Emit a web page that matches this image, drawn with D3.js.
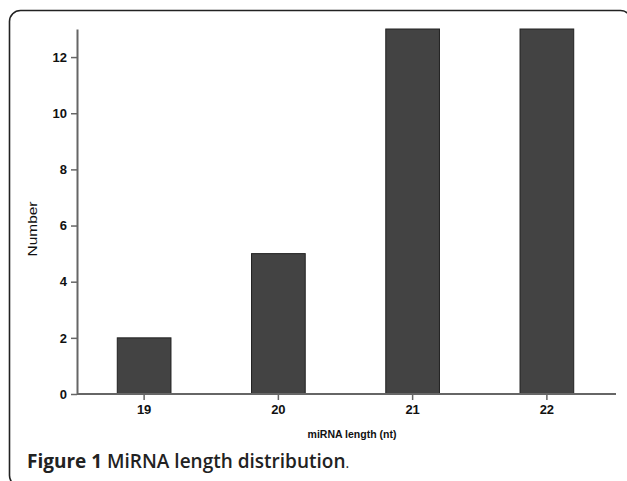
<!DOCTYPE html>
<html>
<head>
<meta charset="utf-8">
<script src="https://cdn.jsdelivr.net/npm/d3@7"></script>
<style>
  body { margin: 0; background: #fff; }
  svg { display: block; }
</style>
</head>
<body>
<div id="chart"></div>
<script>
// data
var lengths = ['19', '20', '21', '22'];
var counts  = [2, 5, 13, 13];
var yTicks  = [0, 2, 4, 6, 8, 10, 12];

var width    = 627
  , height   = 481
  , plotLeft   = 77
  , plotRight  = 614
  , plotTop    = 29
  , plotBottom = 394
  , axisColor = '#666'
  , barColor  = '#434343'
;

var svg = d3.select('#chart').append('svg')
    .attr('width', width)
    .attr('height', height);

// frame with rounded corners (right and bottom run off the page)
svg.append('rect')
    .attr('x', 9.5).attr('y', 10.5)
    .attr('width', 622).attr('height', 476)
    .attr('rx', 11).attr('ry', 11)
    .attr('fill', 'none')
    .attr('stroke', '#222')
    .attr('stroke-width', 1.6);

var x = d3.scaleBand()
    .domain(lengths)
    .range([plotLeft, plotRight])
    .paddingInner(0.6)
    .paddingOuter(0.3);

var y = d3.scaleLinear()
    .domain([0, 13])
    .range([plotBottom, plotTop]);

// bars
svg.selectAll('rect.bar')
    .data(counts)
    .enter()
    .append('rect')
    .attr('class', 'bar')
    .attr('x', function (d, i) { return x(lengths[i]); })
    .attr('y', function (d) { return y(d); })
    .attr('width', x.bandwidth())
    .attr('height', function (d) { return y(0) - y(d); })
    .attr('fill', barColor)
    .attr('stroke', '#222')
    .attr('stroke-width', 1);

// axes
var yAxis = svg.append('g')
    .attr('transform', 'translate(' + plotLeft + ',0)')
    .call(d3.axisLeft(y).tickValues(yTicks).tickSize(6).tickPadding(4).tickSizeOuter(0));

var xAxis = svg.append('g')
    .attr('transform', 'translate(0,' + plotBottom + ')')
    .call(d3.axisBottom(x).tickSize(6).tickPadding(5).tickSizeOuter(0));

xAxis.select('.domain').attr('d', 'M' + plotLeft + ',0H616');

[xAxis, yAxis].forEach(function (g) {
  g.select('.domain').attr('stroke', axisColor).attr('stroke-width', 2);
  g.selectAll('.tick line').attr('stroke', axisColor).attr('stroke-width', 1.5);
  g.selectAll('.tick text')
      .attr('fill', '#111')
      .style('font-family', 'Arial, "Liberation Sans", sans-serif')
      .style('font-weight', 'bold')
      .style('font-size', '13px');
});

// axis titles
svg.append('text')
    .attr('transform', 'translate(37,229) rotate(-90)')
    .attr('text-anchor', 'middle')
    .attr('textLength', 55)
    .attr('lengthAdjust', 'spacingAndGlyphs')
    .style('font-family', 'Arial, "Liberation Sans", sans-serif')
    .style('font-size', '12px')
    .attr('fill', '#111')
    .text('Number');

svg.append('text')
    .attr('x', 352).attr('y', 438)
    .attr('text-anchor', 'middle')
    .style('font-family', 'Arial, "Liberation Sans", sans-serif')
    .style('font-weight', 'bold')
    .style('font-size', '10.5px')
    .attr('fill', '#111')
    .text('miRNA length (nt)');

// caption
var cap = svg.append('text')
    .attr('x', 27).attr('y', 468)
    .style('font-family', '"Open Sans", "Noto Sans", sans-serif')
    .style('font-size', '19px')
    .attr('fill', '#222');
cap.append('tspan').style('font-weight', 'bold').text('Figure 1 ');
cap.append('tspan').style('font-weight', '600').text('MiRNA length distribution');
cap.append('tspan').style('font-size', '14px').text('.');
</script>
</body>
</html>
